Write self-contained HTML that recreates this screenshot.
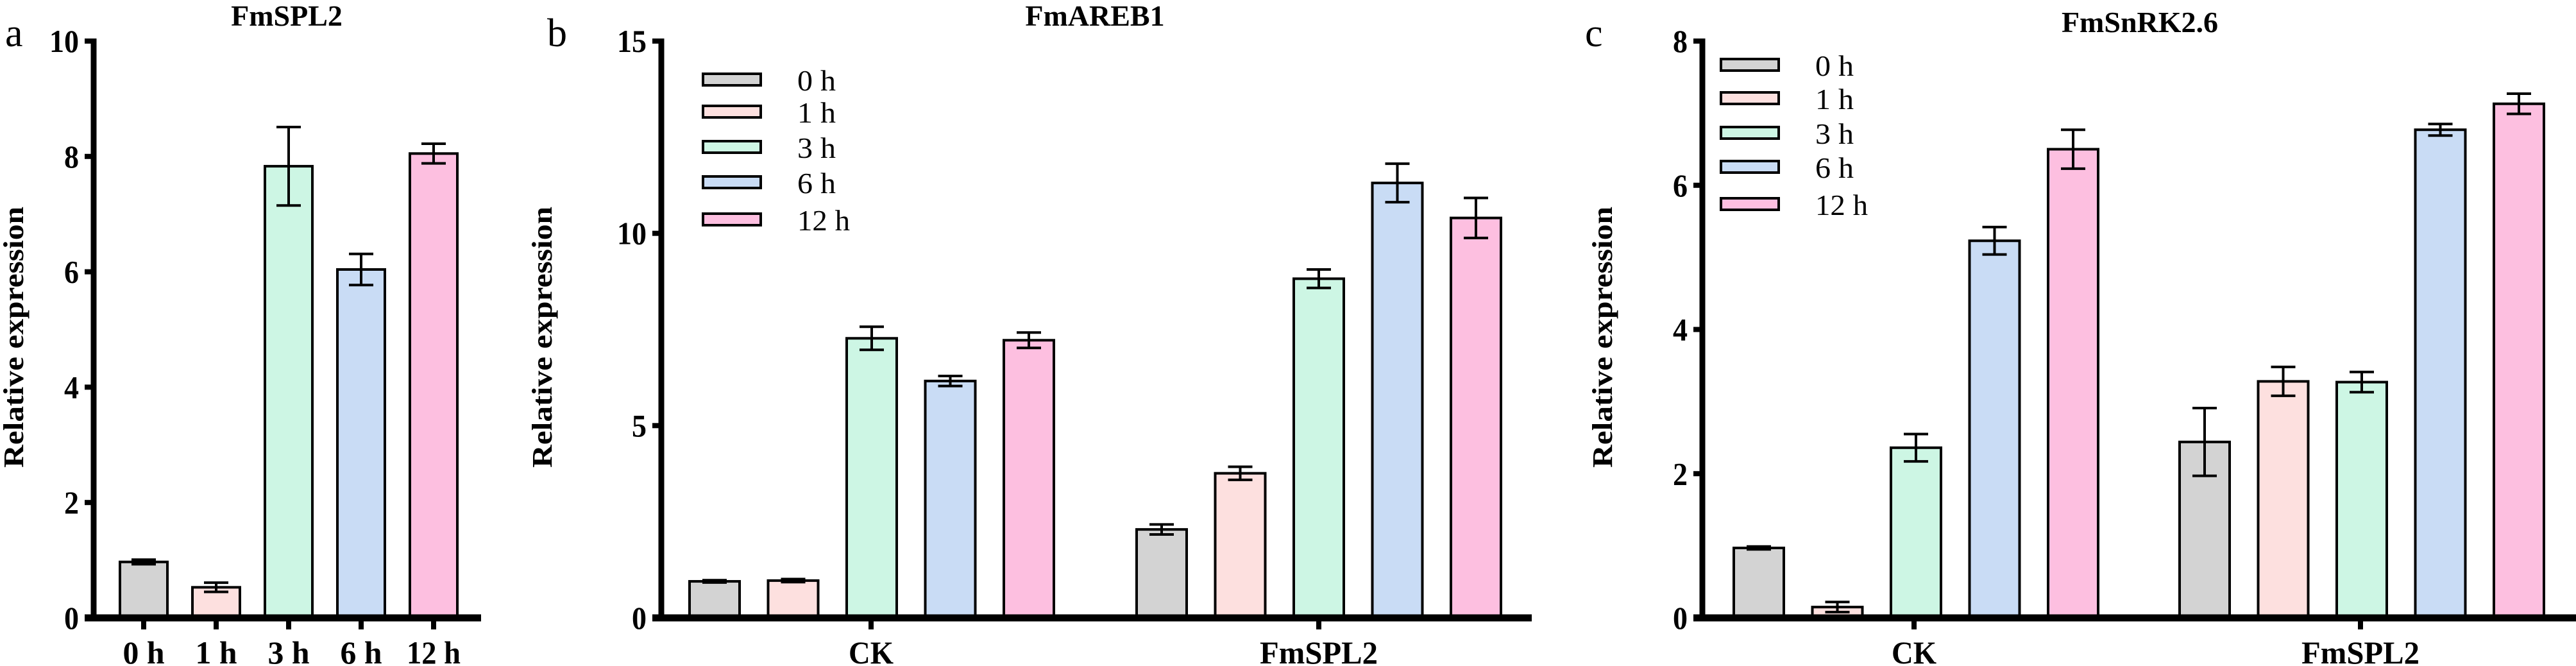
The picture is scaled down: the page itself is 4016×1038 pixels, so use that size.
<!DOCTYPE html>
<html><head><meta charset="utf-8">
<style>
html,body{margin:0;padding:0;background:#fff;}
svg{display:block;}
text{font-family:"Liberation Serif",serif;}
</style></head>
<body>
<svg id="fig" width="4016" height="1038" viewBox="0 0 4016 1038" xmlns="http://www.w3.org/2000/svg"></svg>
<script>
// ---------- data ----------
const timeLabels = ["0 h","1 h","3 h","6 h","12 h"];
const groupLabels = ["CK","FmSPL2"];
const colors = ["#d3d3d3","#fde0df","#cdf6e4","#c9dcf5","#fdbfe0"];

const aValues = [0.97, 0.53, 7.83, 6.04, 8.05];
const aErrors = [0.04, 0.08, 0.68, 0.27, 0.17];
const aTicks = [0,2,4,6,8,10];

const bCK = [0.95, 0.97, 7.27, 6.16, 7.22];
const bCKErr = [0.03, 0.04, 0.30, 0.13, 0.20];
const bSPL = [2.30, 3.76, 8.82, 11.31, 10.40];
const bSPLErr = [0.13, 0.17, 0.24, 0.50, 0.52];
const bTicks = [0,5,10,15];

const cCK = [0.97, 0.15, 2.36, 5.23, 6.50];
const cCKErr = [0.02, 0.07, 0.19, 0.19, 0.27];
const cSPL = [2.44, 3.28, 3.27, 6.77, 7.13];
const cSPLErr = [0.47, 0.20, 0.14, 0.08, 0.14];
const cTicks = [0,2,4,6,8];

// ---------- helpers ----------
const svg = document.getElementById('fig');
const NS = "http://www.w3.org/2000/svg";
function el(tag, attrs, parent){
  const e = document.createElementNS(NS, tag);
  for (const k in attrs) e.setAttribute(k, attrs[k]);
  (parent||svg).appendChild(e);
  return e;
}
function txt(str, attrs, parent){
  const t = el('text', attrs, parent);
  t.textContent = str;
  return t;
}
const Y0 = 963, YTOP = 64;

function panel(cfg){
  const g = el('g', {});
  
  
  const yScale = v => Y0 - (v / cfg.max) * (Y0 - YTOP);
  // panel letter
  const L = txt(cfg.letter, {x: cfg.letterX, y: 72, 'font-size': 62}, g);
  
  
  // title
  const T = txt(cfg.title, {x: cfg.titleX, y: cfg.titleY, 'font-size': 46, 'font-weight': 'bold', 'text-anchor': 'middle'}, g);
  
  
  // y label
  const YL = txt('Relative expression', {x: 0, y: 0, 'font-size': 44, 'font-weight': 'bold', 'text-anchor': 'middle',
    textLength: 407, lengthAdjust: 'spacingAndGlyphs', transform: `translate(${cfg.ylabX},${(Y0+YTOP)/2+12}) rotate(-90)`}, g);
  
  
  // bars
  cfg.series.forEach((s) => {
    s.values.forEach((v, i) => {
      const x0 = s.x0 + i * cfg.step;
      const top = yScale(v);
      const r = el('rect', {x: x0, y: top, width: cfg.bw, height: Y0 - top, fill: colors[i], stroke: '#000', 'stroke-width': 4}, g);
      
      
      const cx = x0 + cfg.bw / 2;
      const e = s.errors[i];
      const yt = yScale(v + e), yb = yScale(v - e);
      const eb = el('path', {d: `M${cx},${yt}V${yb}M${cx-19},${yt}H${cx+19}M${cx-19},${yb}H${cx+19}`, stroke: '#000', 'stroke-width': 4, fill: 'none'}, g);
      
      
    });
  });
  // axes
  const ya = el('line', {x1: cfg.axisX, y1: YTOP - 4, x2: cfg.axisX, y2: Y0 + 5, stroke: '#000', 'stroke-width': 9}, g);
  
  
  const xa = el('line', {x1: cfg.axisX - 14, y1: Y0, x2: cfg.xEnd, y2: Y0, stroke: '#000', 'stroke-width': 11}, g);
  
  
  cfg.ticks.forEach(t => {
    const y = yScale(t);
    const tk = el('line', {x1: cfg.axisX - 14, y1: y, x2: cfg.axisX, y2: y, stroke: '#000', 'stroke-width': 8}, g);
    
    
    const s = String(t);
    const tl = txt(s, {x: cfg.axisX - 23, y: y + 17, 'font-size': 50, 'font-weight': 'bold', 'text-anchor': 'end',
      textLength: 23 * s.length, lengthAdjust: 'spacingAndGlyphs'}, g);
    
    
  });
  cfg.xcats.forEach(c => {
    const tk = el('line', {x1: c.x, y1: Y0, x2: c.x, y2: Y0 + 18, stroke: '#000', 'stroke-width': 8}, g);
    
    
    const tl = txt(c.label, {x: c.x, y: 1034, 'font-size': 50, 'font-weight': 'bold', 'text-anchor': 'middle',
      textLength: c.w, lengthAdjust: 'spacingAndGlyphs'}, g);
    
    
  });
  // legend
  if (cfg.legend) {
    const lg = el('g', {}, g);
    
    
    cfg.legend.rows.forEach((ry, i) => {
      const b = el('rect', {x: cfg.legend.x, y: ry - 9, width: 90, height: 18, fill: colors[i], stroke: '#000', 'stroke-width': 4}, lg);
      
      
      const lt = txt(timeLabels[i], {x: cfg.legend.tx, y: ry + 17, 'font-size': 46,
        textLength: i === 4 ? 82 : 60, lengthAdjust: 'spacingAndGlyphs'}, lg);
      
      
    });
  }
}

panel({name: 'panel-a', letter: 'a', letterX: 8, title: 'FmSPL2', titleX: 447, titleY: 40, ylabX: 36,
  axisX: 146, xEnd: 750, max: 10, ticks: aTicks, bw: 74, step: 113,
  series: [{key: 'spl2', x0: 187, values: aValues, errors: aErrors}],
  xcats: timeLabels.map((l, i) => ({x: 187 + 37 + i * 113, label: l, w: l.length > 3 ? 84 : 65}))});

panel({name: 'panel-b', letter: 'b', letterX: 853, title: 'FmAREB1', titleX: 1707, titleY: 40, ylabX: 860,
  axisX: 1031, xEnd: 2388, max: 15, ticks: bTicks, bw: 78, step: 122.5,
  series: [{key: 'ck', x0: 1075, values: bCK, errors: bCKErr}, {key: 'fmspl2', x0: 1772, values: bSPL, errors: bSPLErr}],
  xcats: [{x: 1358, label: groupLabels[0], w: 70}, {x: 2056, label: groupLabels[1], w: 184}],
  legend: {x: 1096, tx: 1243, rows: [124, 174, 229, 284, 342]}});

panel({name: 'panel-c', letter: 'c', letterX: 2471, title: 'FmSnRK2.6', titleX: 3336, titleY: 50, ylabX: 2513,
  axisX: 2654, xEnd: 4016, max: 8, ticks: cTicks, bw: 78, step: 122.5,
  series: [{key: 'ck', x0: 2703, values: cCK, errors: cCKErr}, {key: 'fmspl2', x0: 3398, values: cSPL, errors: cSPLErr}],
  xcats: [{x: 2984, label: groupLabels[0], w: 70}, {x: 3680, label: groupLabels[1], w: 184}],
  legend: {x: 2683, tx: 2830, rows: [101, 153, 207, 260, 318]}});
</script>
</body></html>
